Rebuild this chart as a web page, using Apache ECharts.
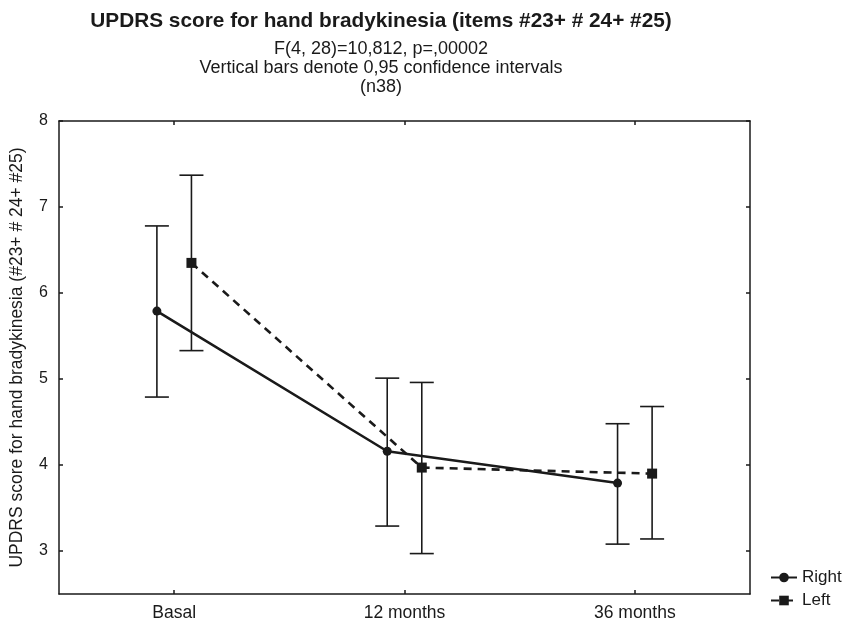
<!DOCTYPE html>
<html>
<head>
<meta charset="utf-8">
<script src="https://cdn.jsdelivr.net/npm/echarts@6/dist/echarts.min.js"></script>
<style>
  html, body { margin: 0; padding: 0; background: #fff; }
  #chart { width: 844px; height: 626px; }
</style>
</head>
<body>
<div id="chart"></div>
<script>
// Time points
const categories = ['Basal', '12 months', '36 months'];

// Right hand: means and 0.95 confidence limits
const rightMean = [5.79, 4.16, 3.79];
const rightLow  = [4.79, 3.29, 3.08];
const rightHigh = [6.78, 5.01, 4.48];

// Left hand: means and 0.95 confidence limits
const leftMean = [6.35, 3.97, 3.90];
const leftLow  = [5.33, 2.97, 3.14];
const leftHigh = [7.37, 4.96, 4.68];

// Y axis ticks
const yTicks = [3, 4, 5, 6, 7, 8];

// Horizontal shift of each group around its time point
const shiftRight = -0.075;
const shiftLeft = 0.075;

const FONT = '"Liberation Sans", Arial, sans-serif';
const INK = '#1a1a1a';

const pos = (i, s) => i + 1 + s;
const rightPts = rightMean.map((v, i) => [pos(i, shiftRight), v]);
const leftPts = leftMean.map((v, i) => [pos(i, shiftLeft), v]);
const rightBars = rightMean.map((v, i) => [pos(i, shiftRight), rightLow[i], rightHigh[i]]);
const leftBars = leftMean.map((v, i) => [pos(i, shiftLeft), leftLow[i], leftHigh[i]]);

function errorBar(params, api) {
  const x = api.value(0);
  const lo = api.coord([x, api.value(1)]);
  const hi = api.coord([x, api.value(2)]);
  const cap = 12;
  const style = { stroke: INK, lineWidth: 1.6 };
  return {
    type: 'group',
    children: [
      { type: 'line', shape: { x1: hi[0], y1: hi[1], x2: lo[0], y2: lo[1] }, style },
      { type: 'line', shape: { x1: hi[0] - cap, y1: hi[1], x2: hi[0] + cap, y2: hi[1] }, style },
      { type: 'line', shape: { x1: lo[0] - cap, y1: lo[1], x2: lo[0] + cap, y2: lo[1] }, style }
    ]
  };
}

const tickCommon = { inside: true, length: 4, lineStyle: { color: INK, width: 1.5 } };
const lineCommon = { show: true, onZero: false, lineStyle: { color: INK, width: 1.5 } };
const catTicks = categories.map((c, i) => i + 1);

const chart = echarts.init(document.getElementById('chart'));
chart.setOption({
  backgroundColor: '#fff',
  animation: false,
  title: [
    {
      text: 'UPDRS score for hand bradykinesia (items #23+ # 24+ #25)',
      left: 376, top: 6, textAlign: 'center',
      textStyle: { fontFamily: FONT, fontSize: 20.8, fontWeight: 'bold', color: INK }
    },
    {
      text: 'F(4, 28)=10,812, p=,00002\nVertical bars denote 0,95 confidence intervals\n(n38)',
      left: 376, top: 35, textAlign: 'center',
      textStyle: { fontFamily: FONT, fontSize: 18, fontWeight: 'normal', color: INK, lineHeight: 19 }
    }
  ],
  legend: {
    orient: 'vertical',
    left: 765, top: 563,
    itemWidth: 26, itemHeight: 12, itemGap: 4,
    textStyle: { fontFamily: FONT, fontSize: 17, color: INK, lineHeight: 19 },
    data: ['Right', 'Left']
  },
  grid: { left: 58, right: 94, top: 121, bottom: 32 },
  xAxis: [
    {
      type: 'value', min: 0.5, max: 3.5, position: 'bottom',
      axisLine: lineCommon,
      axisTick: Object.assign({ customValues: catTicks }, tickCommon),
      axisLabel: {
        customValues: catTicks,
        formatter: v => categories[Math.round(v) - 1] || '',
        fontFamily: FONT, fontSize: 17.5, color: INK, margin: 10
      },
      splitLine: { show: false }
    },
    {
      type: 'value', min: 0.5, max: 3.5, position: 'top',
      axisLine: lineCommon,
      axisTick: Object.assign({ customValues: catTicks }, tickCommon),
      axisLabel: { show: false },
      splitLine: { show: false }
    }
  ],
  yAxis: [
    {
      type: 'value', min: 2.5, max: 8, position: 'left',
      name: 'UPDRS score for hand bradykinesia (#23+ # 24+ #25)',
      nameLocation: 'middle', nameGap: 33, nameRotate: 90,
      nameTextStyle: { fontFamily: FONT, fontSize: 17.5, color: INK },
      axisLine: lineCommon,
      axisTick: Object.assign({ customValues: yTicks }, tickCommon),
      axisLabel: { customValues: yTicks, fontFamily: FONT, fontSize: 16, color: INK, margin: 11 },
      splitLine: { show: false }
    },
    {
      type: 'value', min: 2.5, max: 8, position: 'right',
      axisLine: lineCommon,
      axisTick: Object.assign({ customValues: yTicks }, tickCommon),
      axisLabel: { show: false },
      splitLine: { show: false }
    }
  ],
  series: [
    {
      type: 'custom', name: 'Right CI', renderItem: errorBar,
      encode: { x: 0, y: [1, 2] }, data: rightBars, z: 1, silent: true
    },
    {
      type: 'custom', name: 'Left CI', renderItem: errorBar,
      encode: { x: 0, y: [1, 2] }, data: leftBars, z: 1, silent: true
    },
    {
      type: 'line', name: 'Right', data: rightPts,
      symbol: 'circle', symbolSize: 9,
      lineStyle: { color: INK, width: 2.6, type: 'solid' },
      itemStyle: { color: INK, borderWidth: 0 },
      z: 3
    },
    {
      type: 'line', name: 'Left', data: leftPts,
      symbol: 'rect', symbolSize: 10,
      lineStyle: { color: INK, width: 2.6, type: [8, 6] },
      itemStyle: { color: INK, borderWidth: 0 },
      z: 2
    }
  ]
});
</script>
</body>
</html>
